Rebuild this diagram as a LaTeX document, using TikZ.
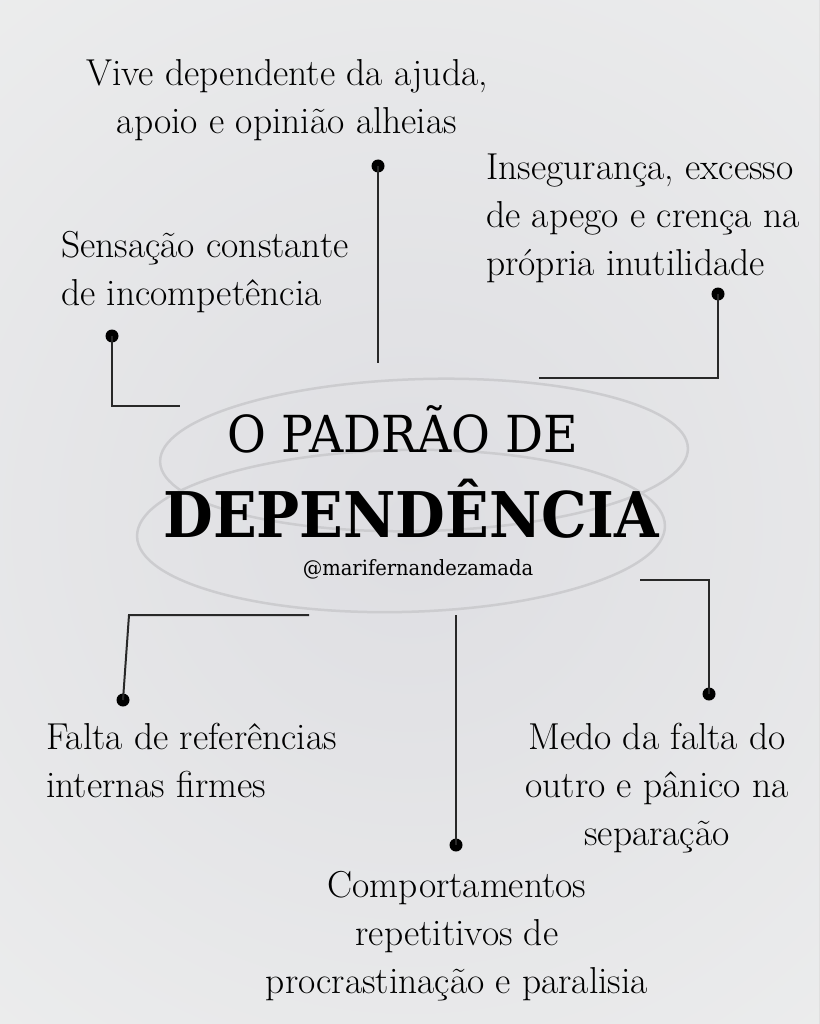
\documentclass[tikz,border=0pt]{standalone}
\usepackage{fontspec}
\newfontfamily\titlefont[FakeStretch=0.93]{DejaVu Serif}
\newfontfamily\titlebold[FakeStretch=0.91]{DejaVu Serif Bold}
\definecolor{bgout}{RGB}{241,242,241}
\definecolor{bgin}{RGB}{222,222,226}
\definecolor{ringgray}{RGB}{204,204,207}
\definecolor{inkgray}{RGB}{40,40,40}
\tikzset{
  link/.style={draw=inkgray, line width=2pt},
  dotmark/.style={circle, fill=black, inner sep=0pt, minimum size=13pt},
  idea/.style={inner sep=0pt, font=\fontsize{37.5}{48}\selectfont},
  ring/.style={draw=ringgray, line width=2.5pt}
}
\begin{document}
\begin{tikzpicture}[x=1pt, y=-1pt]
\useasboundingbox (0,0) rectangle (819,1024);
\clip (0,0) rectangle (819,1024);
\fill[bgout] (0,0) rectangle (819,1024);
\fill[inner color=bgin, outer color=bgout] (410,520) circle (940);
\draw[ring, rotate around={1.5:(424,455)}] (424,455) ellipse (264 and 76);
\draw[ring, rotate around={1.2:(401,531)}] (401,531) ellipse (264 and 81);

\node[anchor=base, inner sep=0pt, font=\titlefont\fontsize{51}{51}\selectfont] (ttop) at (403,452) {O PADRÃO DE};
\node[anchor=base, inner sep=0pt, font=\titlebold\fontsize{63}{63}\selectfont] (tbig) at (411,537) {DEPENDÊNCIA};
\node[anchor=base, inner sep=0pt, font=\titlefont\fontsize{21}{21}\selectfont] (handle) at (418,575) {@marifernandezamada};

\node[idea, anchor=base, align=center] (ajuda) at (287,134) {Vive dependente da ajuda,\\apoio e opinião alheias};
\node[idea, anchor=base west, align=left] (incomp) at (61,305) {Sensação constante\\de incompetência};
\node[idea, anchor=base west, align=left] (inseg) at (486,275) {Insegurança, excesso\\de apego e crença na\\própria inutilidade};
\node[idea, anchor=base west, align=left] (refer) at (46,797) {Falta de referências\\internas firmes};
\node[idea, anchor=base, align=center] (procr) at (457,993) {Comportamentos\\repetitivos de\\procrastinação e paralisia};
\node[idea, anchor=base, align=center] (medo) at (657,845) {Medo da falta do\\outro e pânico na\\separação};

\node[dotmark] (dA) at (378,166) {};
\node[dotmark] (dB) at (112,336) {};
\node[dotmark] (dC) at (718,294) {};
\node[dotmark] (dD) at (123,700) {};
\node[dotmark] (dE) at (456,845) {};
\node[dotmark] (dF) at (709,694) {};
\coordinate (eA) at (378,363);
\coordinate (eB) at (180,406);
\coordinate (eC) at (539,378);
\coordinate (sD) at (309,615);
\coordinate (kD) at (129,615);
\coordinate (sE) at (456,615);
\coordinate (sF) at (640,580);

\draw[link] (dA.center) -- (eA);
\draw[link] (dB.center) |- (eB);
\draw[link] (dC.center) |- (eC);
\draw[link] (sD) -- (kD) -- (dD.center);
\draw[link] (sE) -- (dE.center);
\draw[link] (sF) -| (dF.center);
\end{tikzpicture}
\end{document}
